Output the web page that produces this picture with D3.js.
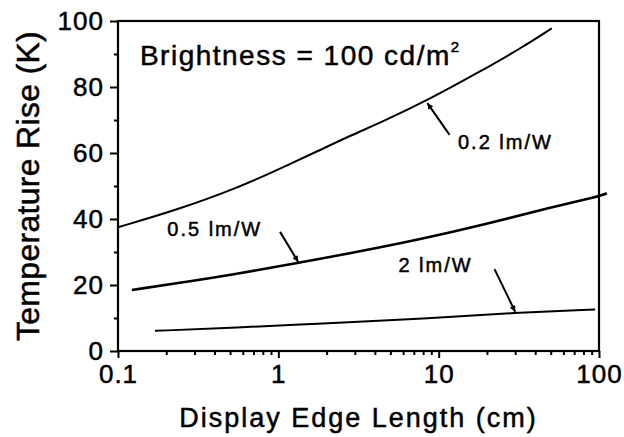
<!DOCTYPE html>
<html>
<head>
<meta charset="utf-8">
<script src="https://cdn.jsdelivr.net/npm/d3@7"></script>
<style>
  body { margin: 0; background: #fff; }
  svg text { font-family: "Liberation Sans", Arial, Helvetica, sans-serif; fill: #000; stroke: #000; stroke-width: 0.5; }
</style>
</head>
<body>
<svg width="624" height="437"></svg>
<script>
// tick values
const xTicks = [0.1, 1, 10, 100];
const yTicks = [0, 20, 40, 60, 80, 100];
const yMinor = [10, 30, 50, 70, 90];

// 0.2 lm/W
const edge02 = [0.1, 0.232, 0.55, 0.977, 1.82, 2.8, 4.52, 8.62, 19, 33.7, 50.8];
const rise02 = [37.5, 42.7, 49.3, 54.8, 60.9, 65.2, 69.6, 76.1, 85.2, 92.2, 97.8];
// 0.5 lm/W
const edge05 = [0.122, 0.232, 0.5, 1.3, 2.8, 7.3, 19, 49.5, 100, 112];
const rise05 = [18.5, 20.5, 23.0, 26.6, 29.6, 33.6, 38.2, 43.5, 46.8, 47.8];
// 2 lm/W
const edge2 = [0.17, 0.5, 1.58, 2.1, 8.8, 30, 94.6];
const rise2 = [6.1, 7.0, 8.2, 8.4, 9.9, 11.6, 12.6];

const series = [
  { name: "0.2 lm/W", edge: edge02, rise: rise02 },
  { name: "0.5 lm/W", edge: edge05, rise: rise05 },
  { name: "2 lm/W", edge: edge2, rise: rise2 },
];

// annotations (data coordinates)
const labelAt = [[13.2, 63.4], [0.203, 37.0], [5.61, 26.1]];
const arrowFrom = [[11.7, 65.5], [1.025, 36.1], [22.3, 24.8]];
const arrowTo = [[8.5, 75.1], [1.33, 27.0], [30.0, 11.9]];
const notePos = [0.137, 86.7];

const width = 624;
const height = 437;
const margin = { top: 21, right: 25, bottom: 86, left: 118 };

const x = d3.scaleLog()
  .domain([0.1, 100])
  .range([margin.left, width - margin.right]);

const y = d3.scaleLinear()
  .domain([0, 100])
  .range([height - margin.bottom, margin.top]);

const svg = d3.select("svg");

svg.append("defs").append("marker")
  .attr("id", "head")
  .attr("markerUnits", "userSpaceOnUse")
  .attr("viewBox", "0 0 10 10")
  .attr("refX", 10)
  .attr("refY", 5)
  .attr("markerWidth", 11)
  .attr("markerHeight", 6)
  .attr("orient", "auto")
  .append("path")
  .attr("d", "M0,0L10,5L0,10Z")
  .attr("fill", "#000");

// axes
const xMinor = [];
for (const d of [0.1, 1, 10]) for (let k = 2; k <= 9; k++) xMinor.push(d * k);

const xAxis = (g) =>
  g.attr("transform", `translate(0,${y(0)})`)
    .call(d3.axisBottom(x).tickValues(xTicks).tickFormat((d) => String(d))
      .tickSize(7).tickSizeOuter(0).tickPadding(7))
    .call((g) => g.select(".domain").remove());

const xMinorAxis = (g) =>
  g.attr("transform", `translate(0,${y(0)})`)
    .call(d3.axisBottom(x).tickValues(xMinor).tickFormat("").tickSize(4).tickSizeOuter(0))
    .call((g) => g.select(".domain").remove());

const yAxis = (g) =>
  g.attr("transform", `translate(${x(0.1)},0)`)
    .call(d3.axisLeft(y).tickValues(yTicks).tickSize(8).tickSizeOuter(0).tickPadding(6))
    .call((g) => g.select(".domain").remove());

const yMinorAxis = (g) =>
  g.attr("transform", `translate(${x(0.1)},0)`)
    .call(d3.axisLeft(y).tickValues(yMinor).tickFormat("").tickSize(4).tickSizeOuter(0))
    .call((g) => g.select(".domain").remove());

svg.append("g").call(xMinorAxis);
svg.append("g").call(yMinorAxis);
const gx = svg.append("g").call(xAxis);
const gy = svg.append("g").call(yAxis);

for (const g of [gx, gy]) {
  g.selectAll("text")
    .attr("font-size", 26)
    .attr("letter-spacing", 1)
    .attr("font-family", '"Liberation Sans", Arial, sans-serif');
}
svg.selectAll(".tick line").attr("stroke", "#000").attr("stroke-width", 2);

// frame
svg.append("rect")
  .attr("x", x(0.1))
  .attr("y", y(100))
  .attr("width", x(100) - x(0.1))
  .attr("height", y(0) - y(100))
  .attr("fill", "none")
  .attr("stroke", "#000")
  .attr("stroke-width", 2.2);

// curves
const line = d3.line()
  .x((d) => x(d[0]))
  .y((d) => y(d[1]))
  .curve(d3.curveBasis);

svg.append("g")
  .selectAll("path")
  .data(series)
  .join("path")
  .attr("d", (s) => line(s.edge.map((e, i) => [e, s.rise[i]])))
  .attr("fill", "none")
  .attr("stroke", "#000")
  .attr("stroke-width", (s, i) => (i === 1 ? 2.6 : 2));

// arrows
svg.append("g")
  .selectAll("line")
  .data(arrowFrom)
  .join("line")
  .attr("x1", (d) => x(d[0]))
  .attr("y1", (d) => y(d[1]))
  .attr("x2", (d, i) => x(arrowTo[i][0]))
  .attr("y2", (d, i) => y(arrowTo[i][1]))
  .attr("stroke", "#000")
  .attr("stroke-width", 2)
  .attr("marker-end", "url(#head)");

// curve labels
svg.append("g")
  .selectAll("text")
  .data(series)
  .join("text")
  .attr("x", (s, i) => x(labelAt[i][0]))
  .attr("y", (s, i) => y(labelAt[i][1]))
  .attr("dy", "0.36em")
  .attr("font-size", 20)
  .attr("letter-spacing", 2)
  .text((s) => s.name);

// brightness note
const note = svg.append("text")
  .attr("x", x(notePos[0]))
  .attr("y", y(notePos[1]))
  .attr("font-size", 28)
  .attr("letter-spacing", 1.5);
note.append("tspan").text("Brightness = 100 cd/m");
note.append("tspan").attr("font-size", 15).attr("dy", -13).text("2");

// axis titles
svg.append("text")
  .attr("x", (x(0.1) + x(100)) / 2)
  .attr("y", 427)
  .attr("text-anchor", "middle")
  .attr("font-size", 27)
  .attr("letter-spacing", 2)
  .text("Display Edge Length (cm)");

svg.append("text")
  .attr("transform", `translate(39,${(y(0) + y(100)) / 2}) rotate(-90)`)
  .attr("text-anchor", "middle")
  .attr("font-size", 32)
  .attr("letter-spacing", 0.3)
  .text("Temperature Rise (K)");
</script>
</body>
</html>
